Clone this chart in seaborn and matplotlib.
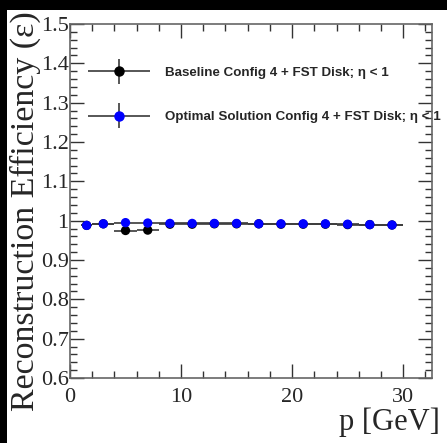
import numpy as np
import pandas as pd
import matplotlib
matplotlib.use("Agg")
import matplotlib.pyplot as plt
import seaborn as sns
from matplotlib.lines import Line2D
from matplotlib.patches import Rectangle
from matplotlib.legend_handler import HandlerErrorbar, HandlerTuple
from matplotlib.ticker import MultipleLocator

# ---------------- data ----------------
p_center = [1.5, 3, 5, 7, 9, 11, 13, 15, 17, 19, 21, 23, 25, 27, 29]
p_halfwidth = [0.5, 1, 1, 1, 1, 1, 1, 1, 1, 1, 1, 1, 1, 1, 1]
eff_baseline = [0.988, 0.992, 0.975, 0.976, 0.991, 0.991, 0.992, 0.992,
                0.992, 0.991, 0.991, 0.991, 0.990, 0.990, 0.989]
err_baseline = [0.004, 0.003, 0.003, 0.003, 0.003, 0.003, 0.003, 0.003,
                0.003, 0.003, 0.003, 0.003, 0.003, 0.003, 0.003]
eff_optimal = [0.988, 0.992, 0.995, 0.994, 0.993, 0.993, 0.993, 0.993,
               0.992, 0.992, 0.992, 0.992, 0.991, 0.990, 0.989]
err_optimal = [0.004, 0.003, 0.003, 0.003, 0.003, 0.003, 0.003, 0.003,
               0.003, 0.003, 0.003, 0.003, 0.003, 0.003, 0.003]
label_baseline = "Baseline Config 4 + FST Disk; η < 1"
label_optimal = "Optimal Solution Config 4 + FST Disk; η < 1"
x_title = "p [GeV]"
y_title = "Reconstruction Efficiency (ε)"
y_ticks = [0.6, 0.7, 0.8, 0.9, 1.0, 1.1, 1.2, 1.3, 1.4, 1.5]
y_ticklabels = ["0.6", "0.7", "0.8", "0.9", "1", "1.1", "1.2", "1.3", "1.4", "1.5"]
x_ticks = [0, 10, 20, 30]
x_ticklabels = ["0", "10", "20", "30"]

df = pd.concat([
    pd.DataFrame({"p": p_center, "dp": p_halfwidth, "eff": eff_baseline,
                  "err": err_baseline, "series": label_baseline}),
    pd.DataFrame({"p": p_center, "dp": p_halfwidth, "eff": eff_optimal,
                  "err": err_optimal, "series": label_optimal}),
])

sns.set_theme(style="ticks")
plt.rcParams["font.family"] = ["Liberation Serif", "DejaVu Serif"]

fig = plt.figure(figsize=(4.47, 4.43), dpi=100)
fig.patch.set_facecolor("white")
ax = fig.add_axes([70 / 447, 1 - 378 / 443, 362 / 447, (378 - 24) / 443])

colors = {label_baseline: "black", label_optimal: "#0000ff"}
ecol = "#3a3a3a"
handles = []
for name in [label_baseline, label_optimal]:
    d = df[df["series"] == name]
    cont = ax.errorbar(d["p"], d["eff"], xerr=d["dp"], yerr=d["err"], fmt="none",
                       ecolor=ecol, elinewidth=1.2, capsize=0, zorder=2)
    handles.append(cont)
sns.scatterplot(data=df, x="p", y="eff", hue="series", palette=colors,
                s=45, edgecolor="none", legend=False, ax=ax, zorder=3)

ax.set_xlim(0, 32.6)
ax.set_ylim(0.6, 1.5)
ax.set_xticks(x_ticks)
ax.set_xticklabels(x_ticklabels)
ax.set_yticks(y_ticks)
ax.set_yticklabels(y_ticklabels)
ax.xaxis.set_minor_locator(MultipleLocator(2))
ax.yaxis.set_minor_locator(MultipleLocator(0.02))
ax.tick_params(which="both", direction="in", top=True, right=True,
               color="#333333", width=1.0, labelsize=16, pad=1)
ax.tick_params(which="major", length=10)
ax.tick_params(which="minor", length=5)
ax.tick_params(axis="x", which="major", pad=7)
for s in ax.spines.values():
    s.set_color("#666666")
    s.set_linewidth(1.2)
ax.set_xlabel("")
ax.set_ylabel("")

fig.text(440 / 447, 1 - 437 / 443, x_title, ha="right", va="bottom", fontsize=22)
fig.text(25 / 447, 1 - 11 / 443, y_title, ha="center", va="top", rotation=90, fontsize=24.5)


class NoXCapHandler(HandlerErrorbar):
    def create_artists(self, *args, **kwargs):
        arts = super().create_artists(*args, **kwargs)
        return [a for a in arts if not (isinstance(a, Line2D) and a.get_marker() == "|")]


leg_handles = []
for name, cont in zip([label_baseline, label_optimal], handles):
    cont_leg = ax.errorbar([], [], xerr=[], yerr=[], fmt="none", ecolor=ecol,
                           elinewidth=1.2, capsize=8, capthick=1.2)
    mk = Line2D([], [], marker="o", linestyle="none", markersize=6.5,
                markerfacecolor=colors[name], markeredgecolor=colors[name])
    leg_handles.append((cont_leg, mk))

leg = ax.legend(leg_handles, [label_baseline, label_optimal],
                handler_map={tuple: HandlerTuple(ndivide=1, pad=0),
                             type(handles[0]): NoXCapHandler(xerr_size=2.33, yerr_size=0.95)},
                loc="upper left", bbox_to_anchor=(0.017, 0.9135), frameon=False,
                handlelength=4.66, handletextpad=1.1, labelspacing=2.4, borderpad=0.4,
                prop={"family": ["Liberation Sans", "DejaVu Sans"], "weight": "bold", "size": 9.6})

# black strips at the top and left edges of the image
fig.add_artist(Rectangle((0, 1 - 10 / 443), 1, 10 / 443, transform=fig.transFigure,
                         facecolor="black", edgecolor="none", zorder=10))
fig.add_artist(Rectangle((0, 0), 7 / 447, 1, transform=fig.transFigure,
                         facecolor="black", edgecolor="none", zorder=10))

fig.savefig("out.png", dpi=100, facecolor="white")
